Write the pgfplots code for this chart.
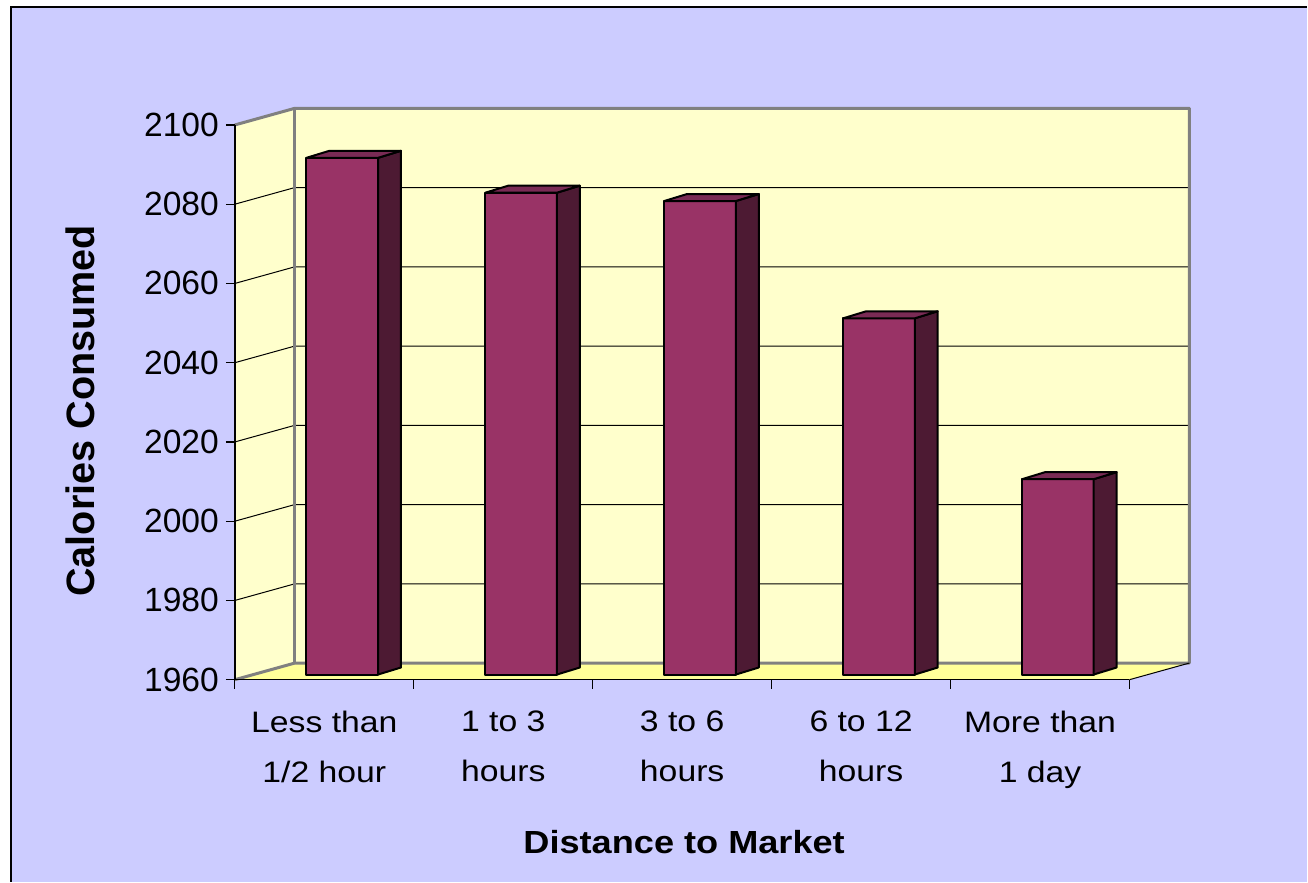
\documentclass[border=0pt]{standalone}
\usepackage{pgfplots}
\pgfplotsset{compat=1.18}
\usepackage{fontspec}
\setmainfont{Liberation Sans}
\definecolor{bg}{HTML}{CCCCFF}
\definecolor{wall}{HTML}{FFFFCC}
\definecolor{floorc}{HTML}{FFFF99}
\definecolor{front}{HTML}{993366}
\definecolor{side}{HTML}{4D1A33}
\definecolor{topc}{HTML}{7A2B55}
\definecolor{edge}{HTML}{808080}
\begin{document}
\begin{tikzpicture}
\fill[white] (-117.5pt,-101pt) rectangle (536.5pt,340pt);
\fill[bg] (-112pt,-101pt) rectangle (536.5pt,336.5pt);
\draw[black, line width=0.6pt] (-112pt,-101pt) -- (-112pt,336.5pt) -- (536.5pt,336.5pt);
\begin{axis}[
 at={(0,0)}, anchor=south west, scale only axis, width=447.5pt, height=277.5pt,
 xmin=0, xmax=5, ymin=1960, ymax=2100, clip=false, axis on top,
 axis lines*=left, axis line style={black, line width=0.8pt},
 xtick={0,1,2,3,4,5}, xticklabels={,,,,,},
 extra x ticks={0.5,1.5,2.5,3.5,4.5},
 extra x tick labels={Less than\\1/2 hour, 1 to 3\\hours, 3 to 6\\hours, 6 to 12\\hours, More than\\1 day},
 extra x tick style={major tick length=0pt},
 ytick={1960,1980,...,2100},
 tick align=outside, major tick length=4.5pt, tick style={black, line width=0.6pt},
 yticklabel style={font=\fontsize{16.8}{20}\selectfont},
 xticklabel style={font=\fontsize{14.8}{25}\selectfont, align=center, xscale=1.14, yshift=-12pt},
 /pgf/number format/assume math mode=true, /pgf/number format/1000 sep={},
 xlabel={Distance to Market}, ylabel={Calories Consumed},
 every axis x label/.style={at={(rel axis cs:0.5022,-0.2919)}, anchor=center, font=\bfseries\fontsize{16}{19}\selectfont, xscale=1.13},
 every axis y label/.style={at={(rel axis cs:-0.1725,0.4847)}, anchor=center, rotate=90, font=\bfseries\fontsize{19.8}{23}\selectfont},
]
% walls and floor
\fill[wall] (axis cs:0.335,1964.2) rectangle (axis cs:5.335,2104.2);
\fill[wall] (axis cs:0,1960) -- (axis cs:0.335,1964.2) -- (axis cs:0.335,2104.2) -- (axis cs:0,2100) -- cycle;
\fill[floorc] (axis cs:0,1960) -- (axis cs:5,1960) -- (axis cs:5.335,1964.2) -- (axis cs:0.335,1964.2) -- cycle;
% grid lines
\draw[black, line width=0.5pt] (axis cs:0,1980) -- (axis cs:0.335,1984.2) -- (axis cs:5.335,1984.2);
\draw[black, line width=0.5pt] (axis cs:0,2000) -- (axis cs:0.335,2004.2) -- (axis cs:5.335,2004.2);
\draw[black, line width=0.5pt] (axis cs:0,2020) -- (axis cs:0.335,2024.2) -- (axis cs:5.335,2024.2);
\draw[black, line width=0.5pt] (axis cs:0,2040) -- (axis cs:0.335,2044.2) -- (axis cs:5.335,2044.2);
\draw[black, line width=0.5pt] (axis cs:0,2060) -- (axis cs:0.335,2064.2) -- (axis cs:5.335,2064.2);
\draw[black, line width=0.5pt] (axis cs:0,2080) -- (axis cs:0.335,2084.2) -- (axis cs:5.335,2084.2);
% wall edges
\draw[edge, line width=1.5pt, line join=round] (axis cs:0,1960) -- (axis cs:0.335,1964.2) -- (axis cs:5.335,1964.2) -- (axis cs:5.335,2104.2) -- (axis cs:0.335,2104.2) -- (axis cs:0,2100);
\draw[edge, line width=1.5pt] (axis cs:0.335,1964.2) -- (axis cs:0.335,2104.2);
\draw[black, line width=0.5pt] (axis cs:5,1960) -- (axis cs:5.335,1964.2);
% bars: front, side, top
\addplot[fill=front, draw=black, line width=1pt, line join=round] coordinates {(0.4,1961.3) (0.8,1961.3) (0.8,2091.7) (0.4,2091.7)} -- cycle;
\addplot[fill=side, draw=black, line width=1pt, line join=round] coordinates {(0.8,1961.3) (0.928,1963.07) (0.928,2093.47) (0.8,2091.7)} -- cycle;
\addplot[fill=topc, draw=black, line width=1pt, line join=round] coordinates {(0.4,2091.7) (0.8,2091.7) (0.928,2093.47) (0.528,2093.47)} -- cycle;

\addplot[fill=front, draw=black, line width=1pt, line join=round] coordinates {(1.4,1961.3) (1.8,1961.3) (1.8,2082.9) (1.4,2082.9)} -- cycle;
\addplot[fill=side, draw=black, line width=1pt, line join=round] coordinates {(1.8,1961.3) (1.928,1963.07) (1.928,2084.67) (1.8,2082.9)} -- cycle;
\addplot[fill=topc, draw=black, line width=1pt, line join=round] coordinates {(1.4,2082.9) (1.8,2082.9) (1.928,2084.67) (1.528,2084.67)} -- cycle;

\addplot[fill=front, draw=black, line width=1pt, line join=round] coordinates {(2.4,1961.3) (2.8,1961.3) (2.8,2080.8) (2.4,2080.8)} -- cycle;
\addplot[fill=side, draw=black, line width=1pt, line join=round] coordinates {(2.8,1961.3) (2.928,1963.07) (2.928,2082.57) (2.8,2080.8)} -- cycle;
\addplot[fill=topc, draw=black, line width=1pt, line join=round] coordinates {(2.4,2080.8) (2.8,2080.8) (2.928,2082.57) (2.528,2082.57)} -- cycle;

\addplot[fill=front, draw=black, line width=1pt, line join=round] coordinates {(3.4,1961.3) (3.8,1961.3) (3.8,2051.2) (3.4,2051.2)} -- cycle;
\addplot[fill=side, draw=black, line width=1pt, line join=round] coordinates {(3.8,1961.3) (3.928,1963.07) (3.928,2052.97) (3.8,2051.2)} -- cycle;
\addplot[fill=topc, draw=black, line width=1pt, line join=round] coordinates {(3.4,2051.2) (3.8,2051.2) (3.928,2052.97) (3.528,2052.97)} -- cycle;

\addplot[fill=front, draw=black, line width=1pt, line join=round] coordinates {(4.4,1961.3) (4.8,1961.3) (4.8,2010.6) (4.4,2010.6)} -- cycle;
\addplot[fill=side, draw=black, line width=1pt, line join=round] coordinates {(4.8,1961.3) (4.928,1963.07) (4.928,2012.37) (4.8,2010.6)} -- cycle;
\addplot[fill=topc, draw=black, line width=1pt, line join=round] coordinates {(4.4,2010.6) (4.8,2010.6) (4.928,2012.37) (4.528,2012.37)} -- cycle;
\end{axis}
\end{tikzpicture}
\end{document}
